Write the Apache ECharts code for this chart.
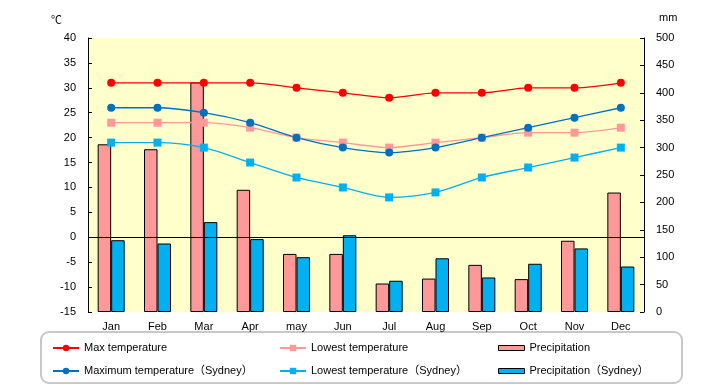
<!DOCTYPE html>
<html>
<head>
<meta charset="utf-8">
<script src="https://cdn.jsdelivr.net/npm/echarts@6/dist/echarts.min.js"></script>
<style>html,body{margin:0;padding:0;background:#fff;}#c{width:720px;height:385px;}</style>
</head>
<body>
<div id="c"></div>
<script>
var months = ['Jan','Feb','Mar','Apr','may','Jun','Jul','Aug','Sep','Oct','Nov','Dec'];
var maxTemp = [31,31,31,31,30,29,28,29,29,30,30,31];
var minTemp = [23,23,23,22,20,19,18,19,20,21,21,22];
var precip = [306,297,419,223,106,106,52,61,86,60,130,218];
var maxTempSydney = [26,26,25,23,20,18,17,18,20,22,24,26];
var minTempSydney = [19,19,18,15,12,10,8,9,12,14,16,18];
var precipSydney = [131,125,164,133,100,140,57,98,63,88,116,83];

var FONT = 'Liberation Sans, Noto Sans CJK JP, sans-serif';
var chart = echarts.init(document.getElementById('c'));
var lineCommon = function (name, data, color, symbol) {
  return {
    name: name, type: 'line', yAxisIndex: 0, data: data, smooth: 0.3,
    symbol: symbol, symbolSize: 8, z: 4,
    itemStyle: {color: color}, lineStyle: {color: color, width: 1.3},
    emphasis: {disabled: true}
  };
};
var s1 = lineCommon('Max temperature', maxTemp, '#FF0000', 'circle');
s1.markLine = {
  silent: true, symbol: 'none', animation: false,
  label: {show: false},
  lineStyle: {color: '#000', type: 'solid', width: 1},
  data: [{yAxis: 0}]
};
var barCommon = function (name, data, color) {
  return {
    name: name, type: 'bar', yAxisIndex: 1, data: data, barWidth: 13.5, barGap: '0%', z: 2,
    itemStyle: {color: color, borderColor: '#000', borderWidth: 1},
    emphasis: {disabled: true}
  };
};
var legendText = {fontSize: 11, color: '#000', fontFamily: FONT, lineHeight: 14};
var legendBase = {orient: 'vertical', top: 341, padding: 0, itemGap: 9, itemWidth: 26, itemHeight: 8,
  textStyle: legendText, selectedMode: false};
chart.setOption({
  animation: false,
  textStyle: {fontFamily: FONT},
  grid: {left: 88, right: 76, top: 38, bottom: 73, show: true, backgroundColor: '#FFFFCC', borderWidth: 0},
  graphic: [{
    type: 'rect', shape: {x: 41, y: 332, width: 641, height: 51, r: 8}, z: -1,
    style: {fill: '#fff', stroke: '#C8C8C8', lineWidth: 2}
  }],
  legend: [
    Object.assign({}, legendBase, {left: 52, data: ['Max temperature', 'Maximum temperature（Sydney）']}),
    Object.assign({}, legendBase, {left: 279, data: ['Lowest temperature', 'Lowest temperature（Sydney）']}),
    Object.assign({}, legendBase, {left: 498, itemHeight: 5, itemStyle: {borderWidth: 1, borderColor: '#000'}, data: [
       {name: 'Precipitation', icon: 'rect'},
       {name: 'Precipitation（Sydney）', icon: 'rect'}]})
  ],
  xAxis: {
    type: 'category', data: months,
    axisLine: {show: false}, axisTick: {show: false},
    axisLabel: {color: '#000', fontSize: 11, margin: 9}
  },
  yAxis: [{
    type: 'value', min: -15, max: 40, interval: 5, position: 'left',
    name: '℃', nameLocation: 'end', nameGap: 17,
    nameTextStyle: {color: '#000', fontSize: 11, align: 'right', verticalAlign: 'middle', padding: [0, 26, 0, 0]},
    axisLine: {show: true, lineStyle: {color: '#000', width: 1}},
    axisTick: {show: true, inside: true, length: 4, lineStyle: {color: '#000'}},
    axisLabel: {color: '#000', fontSize: 11, margin: 12},
    splitLine: {show: false}
  }, {
    type: 'value', min: 0, max: 500, interval: 50, position: 'right',
    name: 'mm', nameLocation: 'end', nameGap: 20,
    nameTextStyle: {color: '#000', fontSize: 11, align: 'left', verticalAlign: 'middle', padding: [0, 0, 0, 15]},
    axisLine: {show: true, lineStyle: {color: '#000', width: 1}},
    axisTick: {show: true, inside: true, length: 4, lineStyle: {color: '#000'}},
    axisLabel: {color: '#000', fontSize: 11, margin: 12},
    splitLine: {show: false}
  }],
  series: [
    s1,
    lineCommon('Lowest temperature', minTemp, '#FF9999', 'rect'),
    barCommon('Precipitation', precip, '#FF9999'),
    lineCommon('Maximum temperature（Sydney）', maxTempSydney, '#0070C0', 'circle'),
    lineCommon('Lowest temperature（Sydney）', minTempSydney, '#00B0F0', 'rect'),
    barCommon('Precipitation（Sydney）', precipSydney, '#00B0F0')
  ]
});
</script>
</body>
</html>
